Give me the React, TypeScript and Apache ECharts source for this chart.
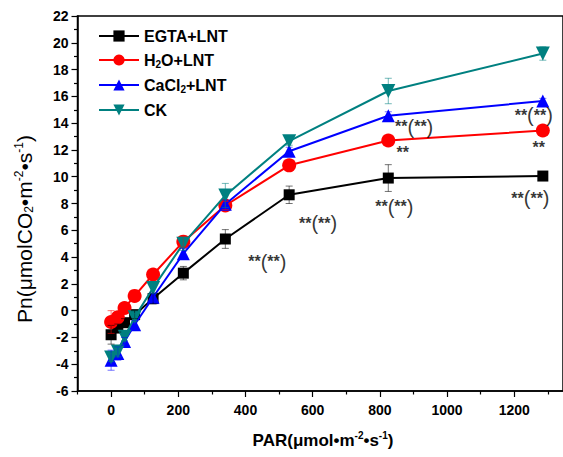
import React, { useEffect, useRef } from "react";
import * as echarts from "echarts";

const par = [0, 20, 40, 70, 125, 215, 340, 530, 825, 1285];
const egta = [-1.8, -1.3, -0.9, -0.3, 0.9, 2.8, 5.35, 8.65, 9.9, 10.05];
const h2o = [-0.85, -0.5, 0.2, 1.1, 2.7, 5.15, 7.85, 10.85, 12.7, 13.45];
const cacl2 = [-3.7, -3.2, -2.3, -1.05, 1.0, 4.25, 7.95, 11.9, 14.55, 15.65];
const ck = [-3.5, -3.05, -1.95, -0.5, 1.7, 5.0, 8.6, 12.65, 16.4, 19.2];

const egtaErr = [0.7, 0.3, 0.3, 0.3, 0.4, 0.5, 0.7, 0.65, 1.0, 0.2];
const h2oErr = [0.85, 0.4, 0.3, 0.3, 0.3, 0.4, 0.3, 0.4, 0.2, 0.2];
const cacl2Err = [0.75, 0.5, 0.3, 0.3, 0.3, 0.4, 0.3, 0.3, 0.3, 0.2];
const ckErr = [0.3, 0.4, 0.3, 0.3, 0.4, 0.5, 0.9, 0.3, 0.95, 0.5];

const seriesNames = ["EGTA+LNT", "H2O+LNT", "CaCl2+LNT", "CK"];
const legendLabels = [
  "{b|EGTA+LNT}",
  "{b|H}{s|2}{b|O+LNT}",
  "{b|CaCl}{s|2}{b|+LNT}",
  "{b|CK}",
];
const colors = ["#000000", "#ff0000", "#0000ff", "#008080"];
const symbols = ["rect", "circle", "triangle", "path://M0,0 L10,0 L5,9 Z"];
const symbolSizes = [11, 14, 13, 14];

const annX = [465, 616, 843, 1248, 868, 902, 1273, 1258];
const annY = [3.65, 6.54, 7.76, 8.4, 11.8, 13.73, 12.2, 14.6];
const annText = ["**(**)", "**(**)", "**(**)", "**(**)", "**", "**(**)", "**", "**(**)"];

const xTicks = [0, 200, 400, 600, 800, 1000, 1200];
const xMinorTicks = [-100, 100, 300, 500, 700, 900, 1100, 1300];

const FONT = "'Liberation Sans', Arial, sans-serif";

export default function App() {
  const ref = useRef<HTMLDivElement>(null);
  useEffect(() => {
    if (!ref.current) return;
    const chart = echarts.init(ref.current, null, { renderer: "svg" });
    const values = [egta, h2o, cacl2, ck];
    const errs = [egtaErr, h2oErr, cacl2Err, ckErr];

    const lineSeries = values.map((vals, i) => ({
      name: seriesNames[i],
      type: "line",
      data: par.map((x, j) => [x, vals[j]]),
      symbol: symbols[i],
      symbolSize: symbolSizes[i],
      lineStyle: { color: colors[i], width: 2 },
      itemStyle: { color: colors[i] },
      z: 3 + i,
    }));

    const errSeries = values.map((vals, i) => ({
      name: seriesNames[i] + " err",
      type: "custom",
      data: par.map((x, j) => [x, vals[j], errs[i][j]]),
      encode: { x: 0, y: 1 },
      z: 10 + i,
      silent: true,
      renderItem: (params: any, api: any) => {
        const x = api.value(0);
        const y = api.value(1);
        const e = api.value(2);
        const top = api.coord([x, y + e]);
        const bot = api.coord([x, y - e]);
        const cw = 3.5;
        const st = { stroke: colors[i], lineWidth: 1, opacity: 0.55 };
        return {
          type: "group",
          children: [
            { type: "line", shape: { x1: top[0], y1: top[1], x2: bot[0], y2: bot[1] }, style: st },
            { type: "line", shape: { x1: top[0] - cw, y1: top[1], x2: top[0] + cw, y2: top[1] }, style: st },
            { type: "line", shape: { x1: bot[0] - cw, y1: bot[1], x2: bot[0] + cw, y2: bot[1] }, style: st },
          ],
        };
      },
    }));

    const annSeries = {
      name: "ann",
      type: "scatter",
      data: annX.map((x, k) => ({ value: [x, annY[k]], name: annText[k] })),
      symbolSize: 1,
      itemStyle: { color: "rgba(0,0,0,0)" },
      silent: true,
      z: 20,
      label: {
        show: true,
        position: "inside",
        formatter: (p: any) =>
          p.name === "**" ? "{s|**}" : "{s|**}{p|(}{s|**}{p|)}",
        rich: {
          s: { fontSize: 16, fontWeight: "bold", fontFamily: FONT, color: "#000", lineHeight: 20 },
          p: { fontSize: 20, fontFamily: FONT, color: "#000", lineHeight: 20 },
        },
      },
    };

    const axisLabelStyle = {
      fontSize: 14,
      fontWeight: "bold",
      fontFamily: FONT,
      color: "#000",
    };

    chart.setOption({
      animation: false,
      backgroundColor: "#fff",
      grid: {
        left: 77.5,
        top: 16,
        width: 488,
        height: 375,
        show: true,
        borderColor: "#000",
        borderWidth: 1.5,
        backgroundColor: "transparent",
      },
      legend: {
        data: seriesNames,
        orient: "vertical",
        left: 93,
        top: 23,
        itemWidth: 40,
        itemHeight: 14,
        itemGap: 8,
        formatter: (name: string) => legendLabels[seriesNames.indexOf(name)],
        textStyle: {
          color: "#000",
          fontFamily: FONT,
          rich: {
            b: { fontSize: 16, fontWeight: "bold", fontFamily: FONT, color: "#000", lineHeight: 18 },
            s: { fontSize: 10, fontWeight: "bold", fontFamily: FONT, color: "#000", lineHeight: 4, verticalAlign: "bottom" },
          },
        },
      },
      xAxis: [
        {
          type: "value",
          min: -100,
          max: 1345,
          position: "bottom",
          splitLine: { show: false },
          axisLine: { show: true, onZero: false, lineStyle: { color: "#000", width: 1.5 } },
          axisTick: { show: true, customValues: xTicks, length: 6, lineStyle: { color: "#000", width: 1.2 } },
          axisLabel: {
            show: true,
            customValues: xTicks,
            margin: 12,
            formatter: (v: number) => String(v),
            ...axisLabelStyle,
          },
        },
        {
          type: "value",
          min: -100,
          max: 1345,
          position: "bottom",
          splitLine: { show: false },
          axisLine: { show: false, onZero: false },
          axisTick: { show: true, customValues: xMinorTicks, length: 3.5, lineStyle: { color: "#000", width: 1.2 } },
          axisLabel: { show: false },
        },
      ],
      yAxis: {
        type: "value",
        min: -6,
        max: 22,
        interval: 2,
        splitLine: { show: false },
        axisLine: { show: true, onZero: false, lineStyle: { color: "#000", width: 1.5 } },
        axisTick: { show: true, length: 6, lineStyle: { color: "#000", width: 1.2 } },
        minorTick: { show: true, splitNumber: 2, length: 3.5, lineStyle: { color: "#000", width: 1.2 } },
        axisLabel: { margin: 9, ...axisLabelStyle },
      },
      graphic: [
        {
          type: "text",
          x: 24,
          y: 229,
          rotation: Math.PI / 2,
          style: {
            text: "{b|Pn(μmolCO}{s|2}{b|•m}{u|-2}{b|•s}{u|-1}{b|)}",
            align: "center",
            verticalAlign: "middle",
            rich: {
              b: { fontSize: 21, fontFamily: FONT, fill: "#000", lineHeight: 22 },
              s: { fontSize: 12, fontFamily: FONT, fill: "#000", lineHeight: 6, verticalAlign: "bottom" },
              u: { fontSize: 12, fontFamily: FONT, fill: "#000", lineHeight: 8, verticalAlign: "top" },
            },
          },
        },
        {
          type: "text",
          x: 323,
          y: 440,
          style: {
            text: "{b|PAR(μmol•m}{u|-2}{b|•s}{u|-1}{b|)}",
            align: "center",
            verticalAlign: "middle",
            rich: {
              b: { fontSize: 17, fontWeight: "bold", fontFamily: FONT, fill: "#000", lineHeight: 20 },
              u: { fontSize: 10, fontWeight: "bold", fontFamily: FONT, fill: "#000", lineHeight: 8, verticalAlign: "top" },
            },
          },
        },
      ],
      series: [...lineSeries, ...errSeries, annSeries],
    });
    return () => chart.dispose();
  }, []);
  return (
    <div
      ref={ref}
      style={{ position: "fixed", left: 0, top: 0, width: 563, height: 457 }}
    />
  );
}
